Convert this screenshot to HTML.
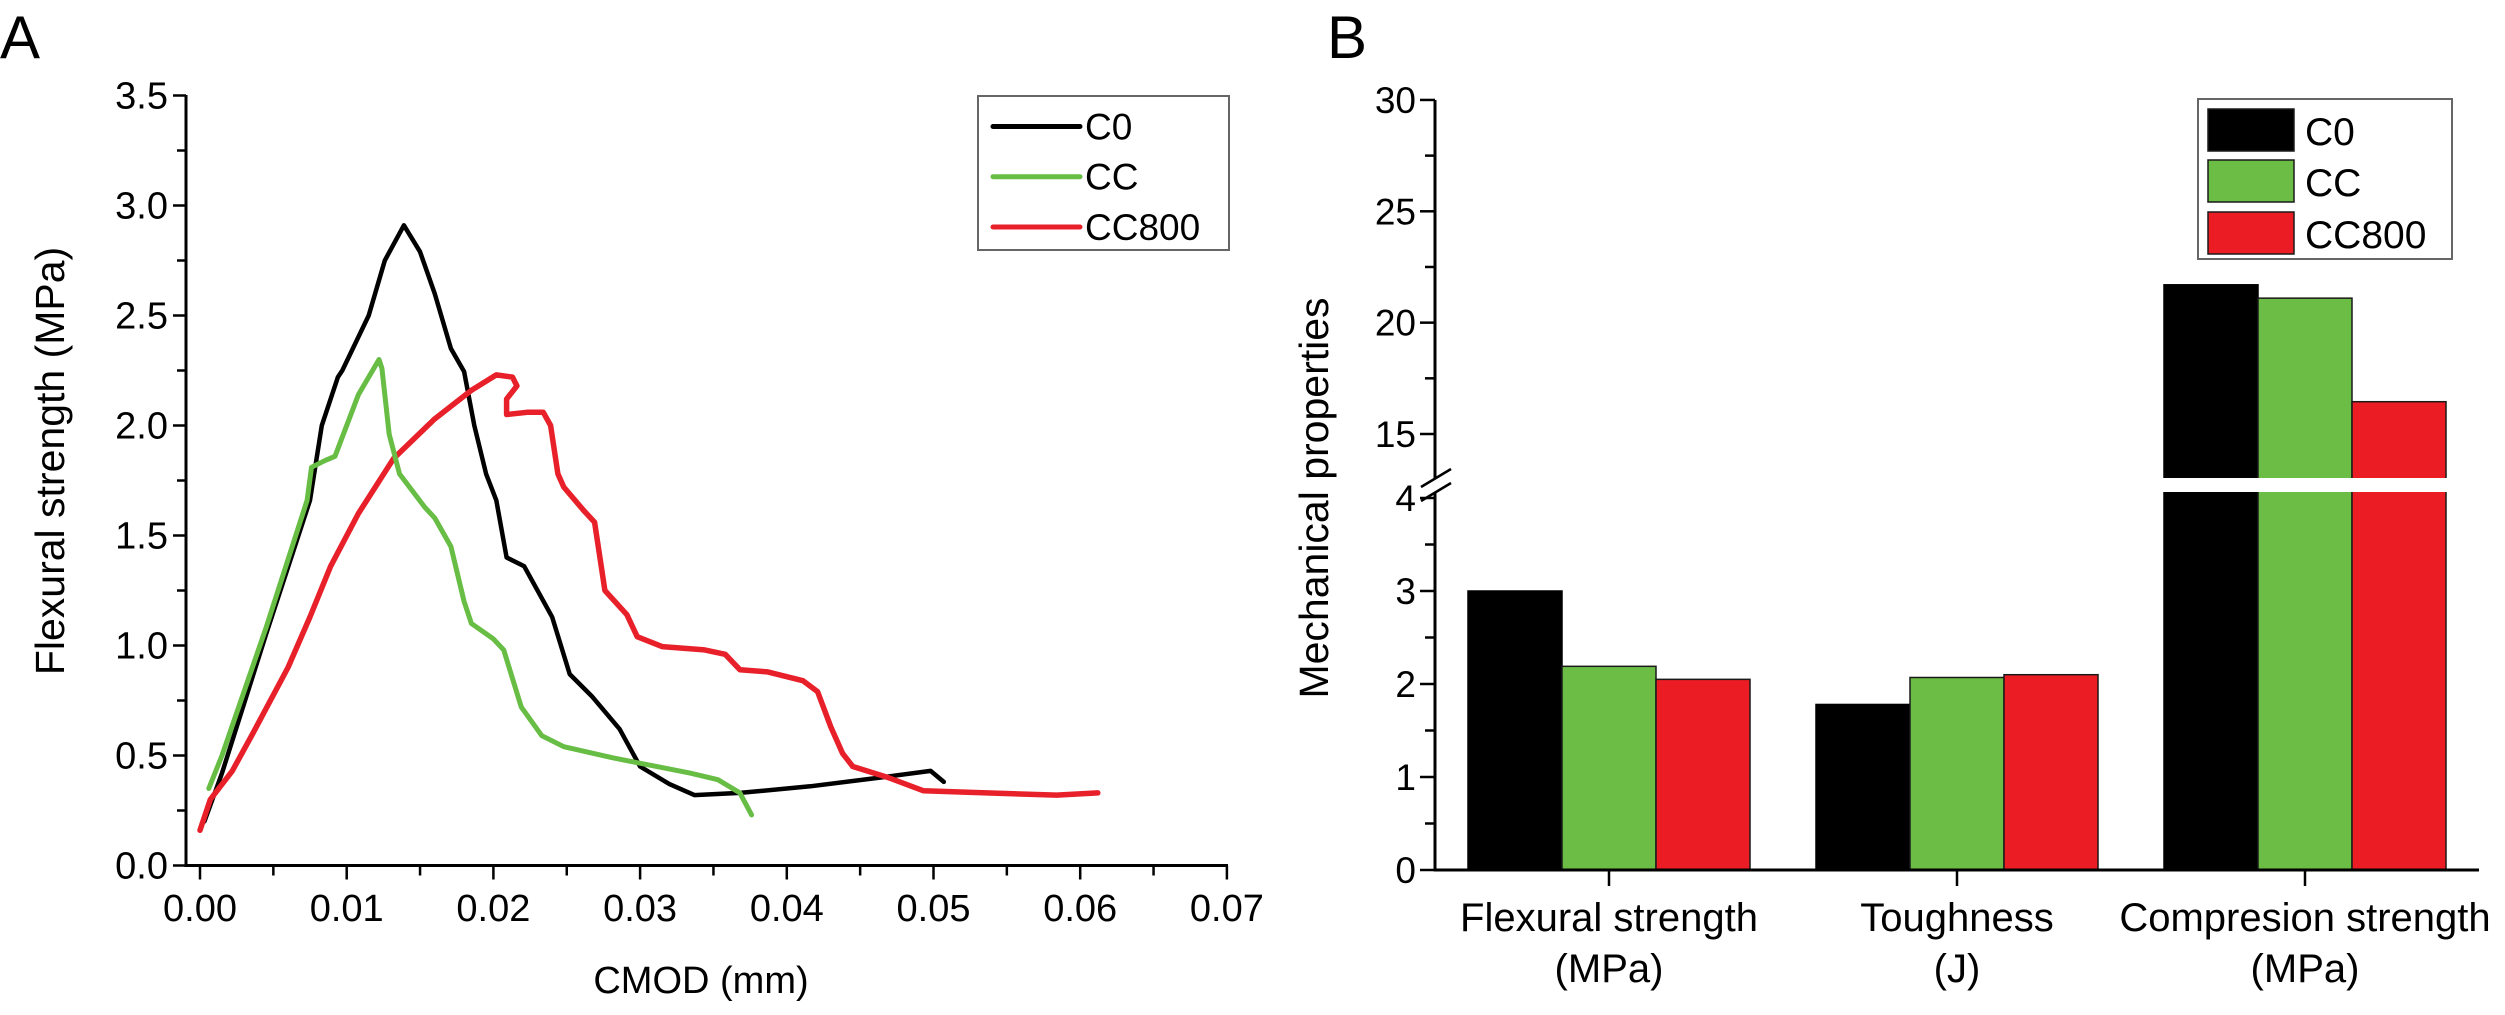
<!DOCTYPE html>
<html><head><meta charset="utf-8">
<style>
html,body{margin:0;padding:0;background:#fff;}
svg{display:block;font-family:"Liberation Sans",Arial,sans-serif;}
</style></head>
<body>
<svg id="fig" width="2505" height="1015" viewBox="0 0 2505 1015" xmlns="http://www.w3.org/2000/svg">
<rect width="2505" height="1015" fill="#fff"/>
<g id="chartA"></g>
<g id="chartB"></g>
</svg>
<script>
// ---------- Panel A data ----------
const seriesNames = ["C0","CC","CC800"];
const c0X = [0.0003,0.0015,0.0045,0.0075,0.0083,0.0094,0.0097,0.0115,0.0126,0.0139,0.0150,0.0160,0.0171,0.0180,0.0187,0.0195,0.0202,0.0209,0.0221,0.0240,0.0252,0.0267,0.0286,0.0300,0.0320,0.0337,0.0368,0.0416,0.0464,0.0498,0.0507];
const c0Y = [0.20,0.42,1.05,1.66,2.00,2.22,2.25,2.50,2.75,2.91,2.79,2.60,2.35,2.245,2.00,1.78,1.66,1.40,1.36,1.13,0.87,0.77,0.62,0.45,0.37,0.32,0.33,0.36,0.40,0.43,0.38];
const ccX = [0.0006,0.0015,0.0045,0.0073,0.0076,0.0085,0.0092,0.0108,0.0122,0.0124,0.0129,0.0136,0.0153,0.0160,0.0171,0.0180,0.0185,0.0200,0.0207,0.0219,0.0233,0.0248,0.0281,0.0296,0.0334,0.0353,0.0368,0.0376];
const ccY = [0.35,0.50,1.08,1.66,1.81,1.84,1.86,2.14,2.30,2.26,1.96,1.78,1.63,1.58,1.45,1.20,1.10,1.03,0.98,0.72,0.59,0.54,0.49,0.47,0.42,0.39,0.33,0.23];
const cc800X = [0.0,0.0007,0.0022,0.0036,0.0060,0.0075,0.0089,0.0108,0.0132,0.0160,0.0185,0.0202,0.0213,0.0216,0.0209,0.0209,0.0223,0.0234,0.0239,0.0244,0.0248,0.0262,0.0269,0.0276,0.0291,0.0298,0.0315,0.0344,0.0358,0.0368,0.0387,0.0411,0.0421,0.0430,0.0438,0.0445,0.0469,0.0493,0.0536,0.0584,0.0612];
const cc800Y = [0.16,0.30,0.43,0.60,0.90,1.13,1.36,1.60,1.85,2.03,2.16,2.23,2.22,2.18,2.12,2.05,2.06,2.06,2.00,1.78,1.72,1.61,1.56,1.25,1.14,1.04,0.995,0.98,0.96,0.89,0.88,0.84,0.79,0.63,0.51,0.45,0.40,0.34,0.33,0.32,0.33];
const aXTicks = ["0.00","0.01","0.02","0.03","0.04","0.05","0.06","0.07"];
const aYTicks = ["0.0","0.5","1.0","1.5","2.0","2.5","3.0","3.5"];

// ---------- Panel B data ----------
const groups = ["Flexural strength|(MPa)","Toughness|(J)","Compresion strength|(MPa)"];
const barC0 = [3.0, 1.78, 21.7];
const barCC = [2.19, 2.07, 21.1];
const barCC800 = [2.05, 2.10, 16.45];
const bLowTicks = ["0","1","2","3","4"];
const bHighTicks = ["15","20","25","30"];

const NS="http://www.w3.org/2000/svg";
function mk(parent,tag,attrs,text){const e=document.createElementNS(NS,tag);for(const k in attrs)e.setAttribute(k,attrs[k]);if(text!==undefined)e.textContent=text;parent.appendChild(e);return e;}

// ===== Panel A =====
const A=document.getElementById('chartA');
const ax0=186, axR=1228, ay0=865.5, ayT=95;
const xA=v=>200+v*14670;
const yA=v=>865.5-v*220;
const colA={C0:"#000000",CC:"#68bd45",CC800:"#e8202a"};

let t=mk(A,'text',{x:0,y:58,'font-size':60},'A');



let axl=mk(A,'path',{d:`M${ax0} ${ayT}V${ay0}H${axR}`,stroke:'#000','stroke-width':3,fill:'none'});



aYTicks.forEach((lab,i)=>{
  const v=parseFloat(lab), y=yA(v);
  const tk=mk(A,'line',{x1:ax0-13,x2:ax0,y1:y,y2:y,stroke:'#000','stroke-width':2.5});
  
  
  const tl=mk(A,'text',{x:168,y:y+13,'font-size':38,'text-anchor':'end'},lab);
  
  
  if(i<aYTicks.length-1){
    const ym=yA(v+0.25);
    const mt=mk(A,'line',{x1:ax0-9,x2:ax0,y1:ym,y2:ym,stroke:'#000','stroke-width':2.5});
    
    
  }
});
aXTicks.forEach((lab,i)=>{
  const v=parseFloat(lab), x=xA(v);
  const tk=mk(A,'line',{x1:x,x2:x,y1:ay0,y2:ay0+14,stroke:'#000','stroke-width':2.5});
  
  
  const tl=mk(A,'text',{x:x,y:921,'font-size':38,'text-anchor':'middle'},lab);
  
  
  if(i<aXTicks.length-1){
    const xm=xA(v+0.005);
    const mt=mk(A,'line',{x1:xm,x2:xm,y1:ay0,y2:ay0+10,stroke:'#000','stroke-width':2.5});
    
    
  }
});
t=mk(A,'text',{x:701,y:993,'font-size':38,'text-anchor':'middle'},'CMOD (mm)');


t=mk(A,'text',{x:0,y:0,'font-size':41,'text-anchor':'middle',transform:'translate(64,461) rotate(-90)'},'Flexural strength (MPa)');



function line(xs,ys,color,w,name){
  const d=xs.map((x,i)=>(i?'L':'M')+xA(x).toFixed(1)+' '+yA(ys[i]).toFixed(1)).join('');
  const p=mk(A,'path',{d:d,stroke:color,'stroke-width':w,fill:'none','stroke-linejoin':'round','stroke-linecap':'round'});
  
  
}
line(c0X,c0Y,colA.C0,4.5,'line-c0');
line(cc800X,cc800Y,colA.CC800,5.5,'line-cc800');
line(ccX,ccY,colA.CC,5,'line-cc');

// legend A
const lgA=mk(A,'g',{});


mk(lgA,'rect',{x:978,y:96,width:251,height:154,fill:'#fff',stroke:'#666','stroke-width':2});
[[126.5,'C0'],[176.7,'CC'],[227,'CC800']].forEach(([y,n])=>{
  const g=mk(lgA,'g',{});
  
  
  mk(g,'line',{x1:993,x2:1080,y1:y,y2:y,stroke:colA[n],'stroke-width':5,'stroke-linecap':'round'});
  mk(g,'text',{x:1085,y:y+13,'font-size':37},n);
});

// ===== Panel B =====
const B=document.getElementById('chartB');
const bx0=1435, bxR=2479, by0=870;
const yB=v=> v<=4.5 ? 870-v*93 : 434-(v-15)*22.27;
const groupCenter=i=>1609+i*348;
const barW=94;
const colB={C0:"#000000",CC:"#6bbd45",CC800:"#ec1c24"};

t=mk(B,'text',{x:1327,y:58,'font-size':60},'B');



const barSets=[["C0",barC0],["CC",barCC],["CC800",barCC800]];
groups.forEach((g,gi)=>{
  barSets.forEach(([n,vals],si)=>{
    const x=groupCenter(gi)-1.5*barW+si*barW, y=yB(vals[gi]);
    const r=mk(B,'rect',{x:x,y:y,width:barW,height:by0-y,fill:colB[n],stroke:n==='C0'?'#000':'#1a1a1a','stroke-width':1.5});
    
    
  });
});
let gap=mk(B,'rect',{x:bx0+2,y:478,width:bxR-bx0,height:14,fill:'#fff'});



let bax=mk(B,'path',{d:`M${bx0} 100V478M${bx0} 492V${by0}H${bxR}`,stroke:'#000','stroke-width':3,fill:'none'});


let brk=mk(B,'path',{d:`M1421 487L1451 469M1421 501L1451 483`,stroke:'#000','stroke-width':2.5,fill:'none'});



bLowTicks.forEach((lab,i)=>{
  const v=parseFloat(lab), y=yB(v);
  const tk=mk(B,'line',{x1:bx0-15,x2:bx0,y1:y,y2:y,stroke:'#000','stroke-width':2.5});
  
  
  const tl=mk(B,'text',{x:1416,y:y+13,'font-size':37,'text-anchor':'end'},lab);
  
  
  if(i<bLowTicks.length-1){
    const ym=yB(v+0.5);
    const mt=mk(B,'line',{x1:bx0-10,x2:bx0,y1:ym,y2:ym,stroke:'#000','stroke-width':2.5});
    
    
  }
});
bHighTicks.forEach((lab,i)=>{
  const v=parseFloat(lab), y=yB(v);
  const tk=mk(B,'line',{x1:bx0-15,x2:bx0,y1:y,y2:y,stroke:'#000','stroke-width':2.5});
  
  
  const tl=mk(B,'text',{x:1416,y:y+13,'font-size':37,'text-anchor':'end'},lab);
  
  
  if(i<bHighTicks.length-1){
    const ym=yB(v+2.5);
    const mt=mk(B,'line',{x1:bx0-10,x2:bx0,y1:ym,y2:ym,stroke:'#000','stroke-width':2.5});
    
    
  }
});
groups.forEach((g,gi)=>{
  const x=groupCenter(gi);
  const tk=mk(B,'line',{x1:x,x2:x,y1:by0,y2:by0+16,stroke:'#000','stroke-width':2.5});
  
  
  const [l1,l2]=g.split('|');
  const tl=mk(B,'text',{x:x,y:931,'font-size':40,'text-anchor':'middle'},l1);
  
  
  const tl2=mk(B,'text',{x:x,y:982,'font-size':40,'text-anchor':'middle'},l2);
  
  
});
t=mk(B,'text',{x:0,y:0,'font-size':41,'text-anchor':'middle',transform:'translate(1328,498) rotate(-90)'},'Mechanical properties');



// legend B
const lgB=mk(B,'g',{});


mk(lgB,'rect',{x:2198,y:99,width:254,height:160,fill:'#fff',stroke:'#666','stroke-width':2});
[[109,'C0'],[160,'CC'],[212,'CC800']].forEach(([y,n])=>{
  const g=mk(lgB,'g',{});
  
  
  mk(g,'rect',{x:2208,y:y,width:86,height:42,fill:colB[n],stroke:'#1a1a1a','stroke-width':1.5});
  mk(g,'text',{x:2305,y:y+36,'font-size':39},n);
});
</script>
</body></html>
